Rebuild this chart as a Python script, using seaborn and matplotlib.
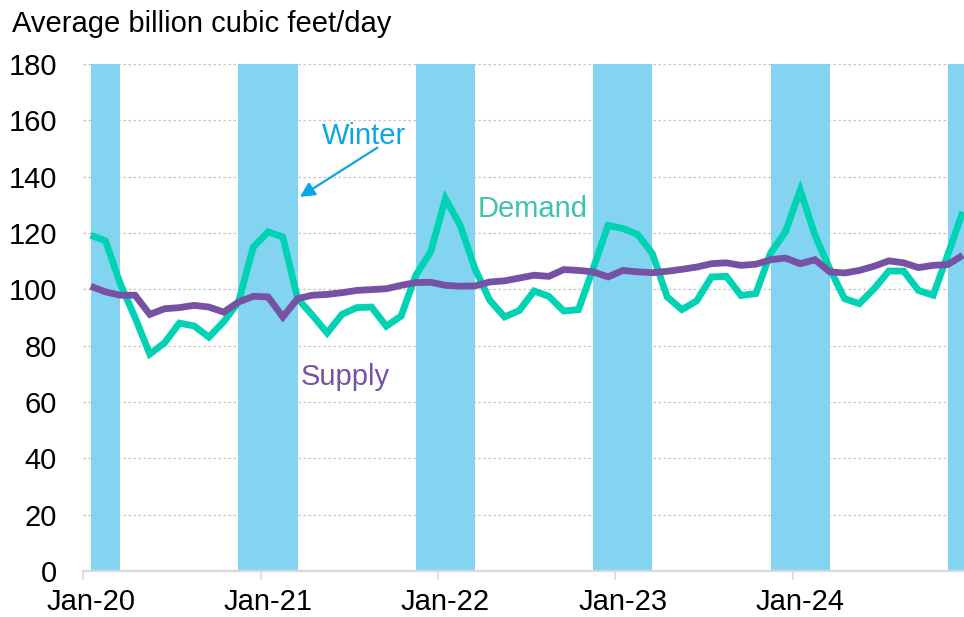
import matplotlib
matplotlib.use("Agg")
import matplotlib.pyplot as plt
import seaborn as sns
import pandas as pd
import numpy as np

# Monthly US natural gas balance, Jan-2020 .. Dec-2024
months = pd.date_range("2020-01-01", periods=60, freq="MS")

demand = [119.2, 117.2, 102.0, 90.0, 77.0, 81.0, 88.0, 87.0, 83.0, 88.5, 95.5, 115.0,
          120.4, 118.6, 96.7, 90.8, 84.5, 91.1, 93.5, 93.7, 86.9, 90.5, 105.0, 113.3,
          132.2, 122.7, 107.3, 96.1, 90.2, 92.5, 99.4, 97.5, 92.3, 92.8, 107.5, 122.7,
          121.6, 119.5, 112.7, 97.3, 92.8, 95.9, 104.4, 104.6, 97.8, 98.5, 112.9, 120.4,
          135.2, 119.2, 107.3, 96.7, 94.9, 100.2, 106.5, 106.5, 99.6, 97.9, 112.5, 127.5]

supply = [101.1, 99.1, 97.9, 97.9, 91.1, 93.1, 93.5, 94.3, 93.7, 91.9, 95.5, 97.5,
          97.3, 90.2, 96.7, 97.9, 98.2, 98.8, 99.6, 99.9, 100.2, 101.4, 102.4, 102.5,
          101.4, 101.1, 101.2, 102.6, 103.0, 104.0, 105.0, 104.6, 107.0, 106.7, 106.2, 104.4,
          106.7, 106.2, 105.9, 106.4, 107.1, 107.9, 109.1, 109.4, 108.5, 108.9, 110.5, 111.1,
          109.1, 110.5, 106.2, 105.8, 106.7, 108.2, 110.1, 109.4, 107.7, 108.5, 108.8, 112.1]

# Winter periods (first and last are cut by the data range)
winter_start = ["2020-01", "2020-11", "2021-11", "2022-11", "2023-11", "2024-11"]
winter_end = ["2020-03", "2021-03", "2022-03", "2023-03", "2024-03", "2025-03"]

year_ticks = ["Jan-20", "Jan-21", "Jan-22", "Jan-23", "Jan-24"]
y_ticks = list(range(0, 181, 20))

GREEN = "#00D2B4"
PURPLE = "#7752A4"
BAND = "#83D4F1"
BLUE = "#0AA6E0"
DEMAND_TXT = "#3CC4AA"
FS = 21


def month_pos(s):
    d = pd.Timestamp(s)
    return (d.year - 2020) * 12 + (d.month - 1)


sns.set_style("white")
plt.rcParams["font.family"] = ["Liberation Sans", "DejaVu Sans"]

df = pd.DataFrame({
    "pos": np.arange(len(months)),
    "Demand": demand,
    "Supply": supply,
})
long = df.melt(id_vars="pos", var_name="series", value_name="bcfd")

fig = plt.figure(figsize=(9.64, 6.17), dpi=100)
ax = fig.add_axes([0.0864, 0.0746, 0.92, 0.8217])

for s, e in zip(winter_start, winter_end):
    ax.axvspan(month_pos(s), month_pos(e), color=BAND, lw=0, zorder=1)

sns.lineplot(data=long, x="pos", y="bcfd", hue="series",
             palette={"Demand": GREEN, "Supply": PURPLE},
             linewidth=4.9, ax=ax, legend=False, zorder=3)
for ln in ax.lines:
    ln.set_solid_capstyle("butt")
    ln.set_solid_joinstyle("miter")

ax.set_xlim(-0.5, 59.5)
ax.set_ylim(0, 180)
ax.set_yticks(y_ticks)

# tick marks on the year boundaries, labels centred on each January
label_pos = [month_pos(f"20{t[-2:]}-01") for t in year_ticks]
ax.set_xticks([p - 0.5 for p in label_pos])
ax.set_xticklabels([""] * len(label_pos))
ax.set_xticks(label_pos, minor=True)
ax.set_xticklabels(year_ticks, minor=True)
ax.set_xlabel("")
ax.set_ylabel("")

ax.yaxis.grid(True, linestyle=(0, (2, 2)), color="#C4C4C4", lw=0.9, zorder=0)
ax.xaxis.grid(False, which="both")
ax.set_axisbelow(True)
for side in ["left", "top", "right"]:
    ax.spines[side].set_visible(False)
ax.spines["bottom"].set_color("#D9D9D9")
ax.spines["bottom"].set_linewidth(1.6)
ax.spines["bottom"].set_zorder(4)

ax.tick_params(axis="y", length=0, pad=19, labelsize=FS, labelcolor="black")
ax.tick_params(axis="x", which="major", length=6.5, width=1.2, color="#D9D9D9",
               direction="out", bottom=True)
ax.tick_params(axis="x", which="minor", length=0, pad=12.5,
               labelsize=FS, labelcolor="black", bottom=True)

fig.text(12 / 964, 1 - 24 / 617, "Average billion cubic feet/day",
         fontsize=FS, va="center", ha="left", color="black")

ax.text(18.5, 154.4, "Winter", color=BLUE, fontsize=FS, ha="center", va="center", zorder=5)
ax.annotate("", xy=(14.15, 132.8), xytext=(19.4, 150.3),
            arrowprops=dict(arrowstyle="-|>", color=BLUE, lw=1.6,
                            mutation_scale=22, shrinkA=0, shrinkB=0), zorder=5)
ax.text(29.9, 128.5, "Demand", color=DEMAND_TXT, fontsize=FS, ha="center", va="center", zorder=5)
ax.text(17.2, 68.9, "Supply", color=PURPLE, fontsize=FS, ha="center", va="center", zorder=5)

fig.savefig("out.png", dpi=100)
